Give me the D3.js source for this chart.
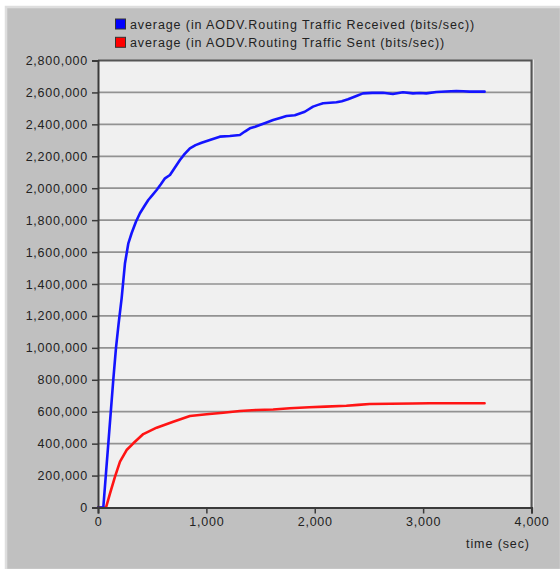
<!DOCTYPE html>
<html>
<head>
<meta charset="utf-8">
<script src="https://cdn.jsdelivr.net/npm/d3@7"></script>
<style>
  html, body { margin: 0; padding: 0; background: #ffffff; }
  svg { display: block; }
  text { font-family: "Liberation Sans", Arial, sans-serif; fill: #222; }
</style>
</head>
<body>
<svg id="chart" width="560" height="569"></svg>
<script>
// Routing traffic over simulation time (seconds), averaged
const seriesNames = [
  "average (in AODV.Routing Traffic Received (bits/sec))",
  "average (in AODV.Routing Traffic Sent (bits/sec))"
];
const seriesColors = ["#1414ff", "#ff1414"];

const receivedTime = [0, 30, 49, 75, 100, 125, 141, 166, 190, 218, 249, 280, 310, 350, 387, 430, 464, 500, 541, 580,
  618, 664, 710, 756, 800, 848, 900, 956, 1032, 1124, 1217, 1309, 1355, 1401, 1450, 1493, 1550, 1616, 1680, 1739,
  1816, 1908, 1984, 2030, 2077, 2140, 2200, 2250, 2307, 2384, 2445, 2530, 2629, 2721, 2814, 2906, 2970, 3029, 3122,
  3210, 3306, 3370, 3429, 3500, 3567];
const receivedValue = [0, 0, 0, 226000, 443000, 660000, 800000, 1000000, 1150000, 1310000, 1530000, 1655000, 1718000,
  1790000, 1843000, 1890000, 1926000, 1955000, 1989000, 2025000, 2062000, 2083000, 2130000, 2177000, 2215000,
  2250000, 2270000, 2285000, 2302000, 2323000, 2327000, 2333000, 2355000, 2375000, 2385000, 2396000, 2410000,
  2427000, 2440000, 2452000, 2457000, 2479000, 2511000, 2522000, 2532000, 2535000, 2538000, 2545000, 2557000,
  2578000, 2594000, 2597000, 2598000, 2590000, 2601000, 2594000, 2596000, 2594000, 2603000, 2606000, 2609000,
  2607000, 2605000, 2606000, 2605000];

const sentTime = [0, 40, 74, 111, 157, 203, 264, 326, 418, 541, 694, 848, 1002, 1155, 1309, 1462, 1616, 1770, 1950,
  2100, 2292, 2400, 2507, 2700, 2900, 3060, 3300, 3567];
const sentValue = [0, 0, 0, 89000, 193000, 287000, 360000, 402000, 460000, 500000, 537000, 573000, 584000, 594000,
  604000, 611000, 614000, 622000, 628000, 632000, 637000, 643000, 648000, 650000, 651000, 653000, 653000, 653000];

const xTicks = [0, 1000, 2000, 3000, 4000];
const yTicks = d3.range(0, 2800001, 200000);
const xLabel = "time (sec)";

const svg = d3.select("#chart");
const W = 560, H = 569;
const plot = { left: 98, right: 531.5, top: 60.5, bottom: 507.5 };

const x = d3.scaleLinear().domain([0, 4000]).range([plot.left, plot.right]);
const y = d3.scaleLinear().domain([0, 2800000]).range([plot.bottom, plot.top]);
const fmt = d3.format(",");

// window panel
svg.append("rect").attr("x", 0).attr("y", 0).attr("width", W).attr("height", H).attr("fill", "#ffffff");
svg.append("rect").attr("x", 6).attr("y", 7).attr("width", W - 5).attr("height", H - 6)
  .attr("fill", "#c0c0c0").attr("stroke", "#dedede").attr("stroke-width", 2.5);

// plot area
svg.append("rect")
  .attr("x", plot.left).attr("y", plot.top)
  .attr("width", plot.right - plot.left).attr("height", plot.bottom - plot.top)
  .attr("fill", "#f0f0f0");

// horizontal grid
svg.append("g").selectAll("line")
  .data(yTicks.filter(v => v > 0 && v < 2800000))
  .join("line")
  .attr("x1", plot.left).attr("x2", plot.right)
  .attr("y1", d => y(d)).attr("y2", d => y(d))
  .attr("stroke", "#929292").attr("stroke-width", 1.7);

// frame (top and right)
svg.append("path")
  .attr("d", `M${plot.left},${plot.top}H${plot.right}V${plot.bottom}`)
  .attr("fill", "none").attr("stroke", "#555").attr("stroke-width", 2);
svg.append("path")
  .attr("d", `M${plot.right + 2},${plot.top - 1}V${plot.bottom}`)
  .attr("fill", "none").attr("stroke", "#e6e6e6").attr("stroke-width", 1);

// series
const line = d3.line().x(d => x(d[0])).y(d => y(d[1]));
const seriesData = [
  d3.zip(receivedTime, receivedValue),
  d3.zip(sentTime, sentValue)
];
// sent first, received on top
[1, 0].forEach(i => {
  svg.append("path")
    .datum(seriesData[i])
    .attr("d", line)
    .attr("fill", "none")
    .attr("stroke", seriesColors[i])
    .attr("stroke-width", 2.6)
    .attr("stroke-linejoin", "round")
    .attr("stroke-linecap", "round");
});

// axes
const yAxis = d3.axisLeft(y).tickValues(yTicks).tickFormat(fmt).tickSize(6).tickPadding(4);
const xAxis = d3.axisBottom(x).tickValues(xTicks).tickFormat(fmt).tickSize(6).tickPadding(4);

const gy = svg.append("g").attr("transform", `translate(${plot.left},0)`).call(yAxis);
const gx = svg.append("g").attr("transform", `translate(0,${plot.bottom})`).call(xAxis);

[gx, gy].forEach(g => {
  g.select(".domain").attr("stroke", "#3a3a3a").attr("stroke-width", 2);
  g.selectAll(".tick line").attr("stroke", "#3a3a3a").attr("stroke-width", 1.5);
  g.selectAll(".tick text")
    .attr("fill", "#222")
    .style("font-family", '"Liberation Sans", Arial, sans-serif')
    .style("font-size", "12.5px")
    .style("letter-spacing", "0.75px");
});

svg.append("text")
  .attr("x", 498).attr("y", 548)
  .attr("text-anchor", "middle")
  .style("font-size", "12.5px")
  .style("letter-spacing", "0.9px")
  .text(xLabel);

// legend
const legend = svg.append("g");
seriesNames.forEach((name, i) => {
  const cy = 24 + i * 18.3;
  legend.append("rect")
    .attr("x", 115.5).attr("y", cy - 5).attr("width", 10).attr("height", 10)
    .attr("fill", seriesColors[i] === "#1414ff" ? "#0000ff" : "#ff0000")
    .attr("stroke", "#333").attr("stroke-width", 1);
  legend.append("text")
    .attr("x", 130).attr("y", cy + 4.5)
    .style("font-size", "12.5px")
    .style("letter-spacing", "0.9px")
    .text(name);
});
</script>
</body>
</html>
